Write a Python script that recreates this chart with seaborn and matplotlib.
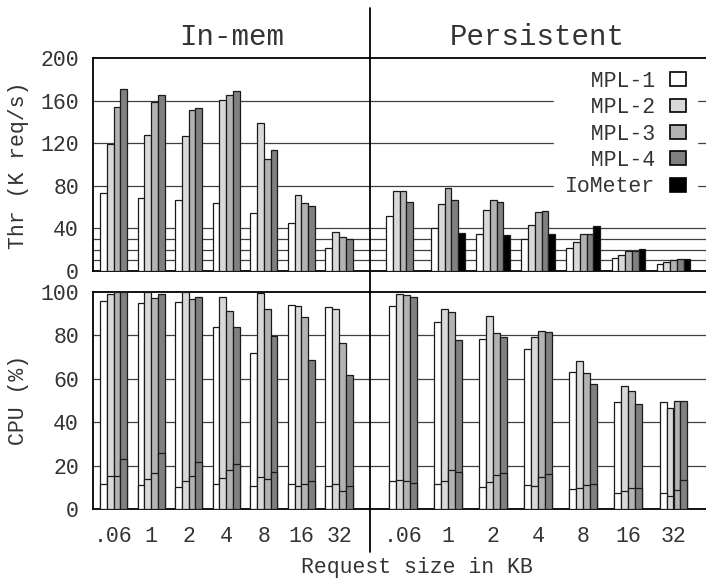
import numpy as np
import pandas as pd
import matplotlib
matplotlib.use('Agg')
import matplotlib.pyplot as plt
import seaborn as sns
from matplotlib.lines import Line2D
from matplotlib.patches import Patch

sizes = ['.06', '1', '2', '4', '8', '16', '32']
series = ['MPL-1', 'MPL-2', 'MPL-3', 'MPL-4', 'IoMeter']
colors = ['#ffffff', '#d9d9d9', '#b3b3b3', '#808080', '#000000']

# throughput (K req/s), one row per series, one column per request size
thr_inmem = [
    [73, 69, 67, 64, 54, 45, 22],
    [119, 128, 127, 161, 139, 71, 37],
    [154, 159, 151, 165, 105, 64, 32],
    [171, 165, 153, 169, 114, 61, 30],
]
thr_pers = [
    [52, 40, 35, 30, 22, 12, 7],
    [75, 63, 57, 43, 27, 15, 8],
    [75, 78, 67, 55, 35, 19, 10],
    [65, 67, 65, 56, 35, 19, 11],
    [np.nan, 36, 34, 35, 42, 21, 11],
]

# CPU (%) total and the lower (system) part of each bar
cpu_inmem = [
    [95.7, 95, 95.2, 83.7, 72, 94, 93],
    [99, 100, 100, 97.8, 99.5, 93.5, 92.2],
    [100, 97.2, 97, 91.4, 92, 88.5, 76.3],
    [100, 99, 97.7, 83.9, 79.9, 68.7, 61.7],
]
cpu_sys_inmem = [
    [11.7, 11.2, 10.1, 11.7, 10.6, 11.3, 10.4],
    [15, 13.8, 13, 14.1, 14.7, 10.6, 11.5],
    [15, 16.6, 15.2, 17.8, 13.6, 11.7, 8.3],
    [23, 25.6, 21.5, 20.7, 16.9, 12.9, 10.6],
]
cpu_pers = [
    [93.5, 86, 78.2, 73.9, 63.1, 49.3, 49.1],
    [99.2, 92.2, 89, 79.4, 68, 56.7, 46.5],
    [98.8, 90.8, 81.1, 82.2, 62.7, 54.5, 49.6],
    [97.8, 78, 79.1, 81.4, 57.7, 48.5, 49.8],
]
cpu_sys_pers = [
    [12.9, 11.3, 10.3, 11.1, 9.2, 7.4, 7.4],
    [13.2, 12.9, 12.3, 10.7, 9.8, 8.4, 6.1],
    [12.9, 18, 15.5, 14.7, 11.2, 9.7, 8.7],
    [12, 17.2, 16.6, 16.1, 11.5, 9.6, 13.4],
]

thr_grid = [10, 20, 30, 40, 80, 120, 160]
cpu_grid = [20, 40, 60, 80]

sns.set_style('white')
plt.rcParams['font.family'] = ['Liberation Mono', 'DejaVu Sans Mono']
plt.rcParams['text.color'] = '#333333'

W, H = 706, 581
fig = plt.figure(figsize=(W / 100, H / 100), dpi=100)


def box(x0, y0, x1, y1):
    # pixel box -> figure fraction rect
    return [x0 / W, 1 - y1 / H, (x1 - x0) / W, (y1 - y0) / H]


ax_ti = fig.add_axes(box(93, 58, 370, 271))
ax_tp = fig.add_axes(box(370, 58, 706, 271))
ax_ci = fig.add_axes(box(93, 292, 370, 509))
ax_cp = fig.add_axes(box(370, 292, 706, 509))


def bars(ax, values, width, n):
    rows = []
    for name, vals in zip(series[:n], values):
        for s, v in zip(sizes, vals):
            rows.append((s, name, v))
    df = pd.DataFrame(rows, columns=['size', 'series', 'value'])
    sns.barplot(data=df, x='size', y='value', hue='series', order=sizes,
                hue_order=series[:n], palette=colors[:n], width=width,
                saturation=1, edgecolor='#1a1a1a', linewidth=0.9,
                errorbar=None, legend=False, ax=ax, zorder=3)


bars(ax_ti, thr_inmem, 0.72, 4)
bars(ax_tp, thr_pers, 0.75, 5)
bars(ax_ci, cpu_inmem, 0.72, 4)
bars(ax_ci, cpu_sys_inmem, 0.72, 4)
bars(ax_cp, cpu_pers, 0.62, 4)
bars(ax_cp, cpu_sys_pers, 0.62, 4)

# group centres: in-mem 113.5 -> 339 px, persistent 403 -> 673.5 px
inmem_step = (339 - 113.5) / 6
pers_step = (673.5 - 403) / 6
for ax in (ax_ti, ax_ci):
    ax.set_xlim((93 - 113.5) / inmem_step, (370 - 113.5) / inmem_step)
for ax in (ax_tp, ax_cp):
    ax.set_xlim((370 - 403) / pers_step, (706 - 403) / pers_step)

for ax in (ax_ti, ax_tp):
    ax.set_ylim(0, 200)
    for g in thr_grid:
        ax.axhline(g, color='#404040', lw=0.9, zorder=1)
for ax in (ax_ci, ax_cp):
    ax.set_ylim(0, 100)
    for g in cpu_grid:
        ax.axhline(g, color='#404040', lw=0.9, zorder=1)

for ax in (ax_ti, ax_tp, ax_ci, ax_cp):
    ax.set_xlabel('')
    ax.set_ylabel('')
    ax.spines['right'].set_visible(False)
    for sp in ('top', 'bottom', 'left'):
        ax.spines[sp].set_linewidth(1.3)
        ax.spines[sp].set_color('black')
    ax.tick_params(axis='x', length=0, labelsize=15.5, pad=12,
                   labelcolor='#333333')
    ax.tick_params(axis='y', direction='in', length=6, width=1,
                   labelsize=15.5, pad=10, labelcolor='#333333')

for ax in (ax_tp, ax_cp):
    ax.spines['left'].set_visible(False)
    ax.tick_params(axis='y', left=False, labelleft=False)

for ax in (ax_ti, ax_tp):
    ax.tick_params(axis='x', labelbottom=False)

ax_ti.set_yticks([0, 40, 80, 120, 160, 200])
ax_ci.set_yticks([0, 20, 40, 60, 80, 100])

handles = [Patch(facecolor=c, edgecolor='black', lw=1.2) for c in colors]
labels = [s.rjust(7) for s in series]
leg = ax_tp.legend(handles, labels, loc='upper right',
                   bbox_to_anchor=(697 / W, 1 - 60 / H),
                   bbox_transform=fig.transFigure, fontsize=15.5,
                   markerfirst=False, frameon=True, fancybox=False,
                   edgecolor='white', facecolor='white', framealpha=1,
                   handlelength=0.75, handleheight=0.6, handletextpad=0.7,
                   labelspacing=0.25, borderpad=0.5, borderaxespad=0)
leg.set_zorder(5)

fig.text(231.5 / W, 1 - 37 / H, 'In-mem', ha='center', va='center', fontsize=21)
fig.text(537 / W, 1 - 37 / H, 'Persistent', ha='center', va='center', fontsize=21)
fig.text(19 / W, 1 - 165 / H, 'Thr (K req/s)', rotation=90, ha='center',
         va='center', fontsize=15.5)
fig.text(19 / W, 1 - 400 / H, 'CPU (%)', rotation=90, ha='center',
         va='center', fontsize=15.5)
fig.text(417 / W, 1 - 568 / H, 'Request size in KB', ha='center',
         va='center', fontsize=15.5)

fig.add_artist(Line2D([370 / W, 370 / W], [1 - 8 / H, 1 - 552 / H],
                      transform=fig.transFigure, color='black', lw=1.3))

fig.savefig('out.png', dpi=100)
